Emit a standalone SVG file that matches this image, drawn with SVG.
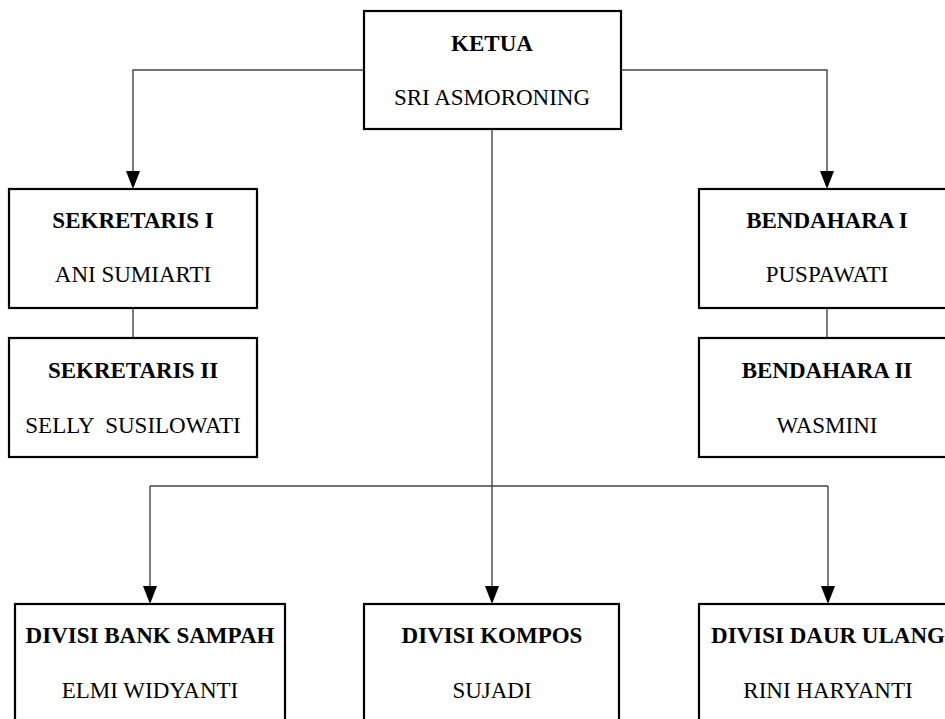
<svg xmlns="http://www.w3.org/2000/svg" width="945" height="719" viewBox="0 0 945 719">
<style>
.box{fill:#fff;stroke:#000;stroke-width:2.2}
.t{font-family:"Liberation Serif","Times New Roman",serif;font-size:23px;text-anchor:middle;fill:#000}
.b{font-weight:bold}
.ln{fill:none;stroke:#444;stroke-width:1.4}
</style>
<defs>
<marker id="arr" markerUnits="userSpaceOnUse" markerWidth="16" markerHeight="20" viewBox="0 0 16 20" refX="8" refY="19" orient="auto-start-reverse">
<path d="M1,1 L15,1 L8,19 Z" fill="#000" transform="rotate(0)"/>
</marker>
</defs>
<rect width="945" height="719" fill="#fff"/>
<g id="connectors">
<path class="ln" d="M364,70 H133 V171"/>
<path class="ln" d="M621,70 H827 V171"/>
<path class="ln" d="M492,129 V586"/>
<path class="ln" d="M150,486 H828"/>
<path class="ln" d="M150,486 V586"/>
<path class="ln" d="M828,486 V586"/>
<path class="ln" d="M133,308 V338"/>
<path class="ln" d="M827,308 V338"/>
<path d="M126,171 L140,171 L133,189 Z" fill="#000"/>
<path d="M820,171 L834,171 L827,189 Z" fill="#000"/>
<path d="M143,586 L157,586 L150,604 Z" fill="#000"/>
<path d="M485,586 L499,586 L492,604 Z" fill="#000"/>
<path d="M821,586 L835,586 L828,604 Z" fill="#000"/>
</g>
<g id="ketua">
<rect class="box" x="364" y="11" width="257" height="118"/>
<text class="t b" x="492" y="51">KETUA</text>
<text class="t" x="492" y="105">SRI ASMORONING</text>
</g>
<g id="sekretaris1">
<rect class="box" x="9" y="189" width="248" height="119"/>
<text class="t b" x="133" y="228">SEKRETARIS I</text>
<text class="t" x="133" y="282">ANI SUMIARTI</text>
</g>
<g id="sekretaris2">
<rect class="box" x="9" y="338" width="248" height="119"/>
<text class="t b" x="133" y="378">SEKRETARIS II</text>
<text class="t" x="133" y="433" xml:space="preserve">SELLY  SUSILOWATI</text>
</g>
<g id="bendahara1">
<rect class="box" x="699" y="189" width="256" height="119"/>
<text class="t b" x="827" y="228">BENDAHARA I</text>
<text class="t" x="827" y="282">PUSPAWATI</text>
</g>
<g id="bendahara2">
<rect class="box" x="699" y="338" width="256" height="119"/>
<text class="t b" x="827" y="378">BENDAHARA II</text>
<text class="t" x="827" y="433">WASMINI</text>
</g>
<g id="divisi-bank-sampah">
<rect class="box" x="15" y="604" width="270" height="130"/>
<text class="t b" x="150" y="643">DIVISI BANK SAMPAH</text>
<text class="t" x="150" y="698">ELMI WIDYANTI</text>
</g>
<g id="divisi-kompos">
<rect class="box" x="364" y="604" width="255" height="130"/>
<text class="t b" x="492" y="643">DIVISI KOMPOS</text>
<text class="t" x="492" y="698">SUJADI</text>
</g>
<g id="divisi-daur-ulang">
<rect class="box" x="699" y="604" width="258" height="130"/>
<text class="t b" x="828" y="643">DIVISI DAUR ULANG</text>
<text class="t" x="828" y="698">RINI HARYANTI</text>
</g>
</svg>
